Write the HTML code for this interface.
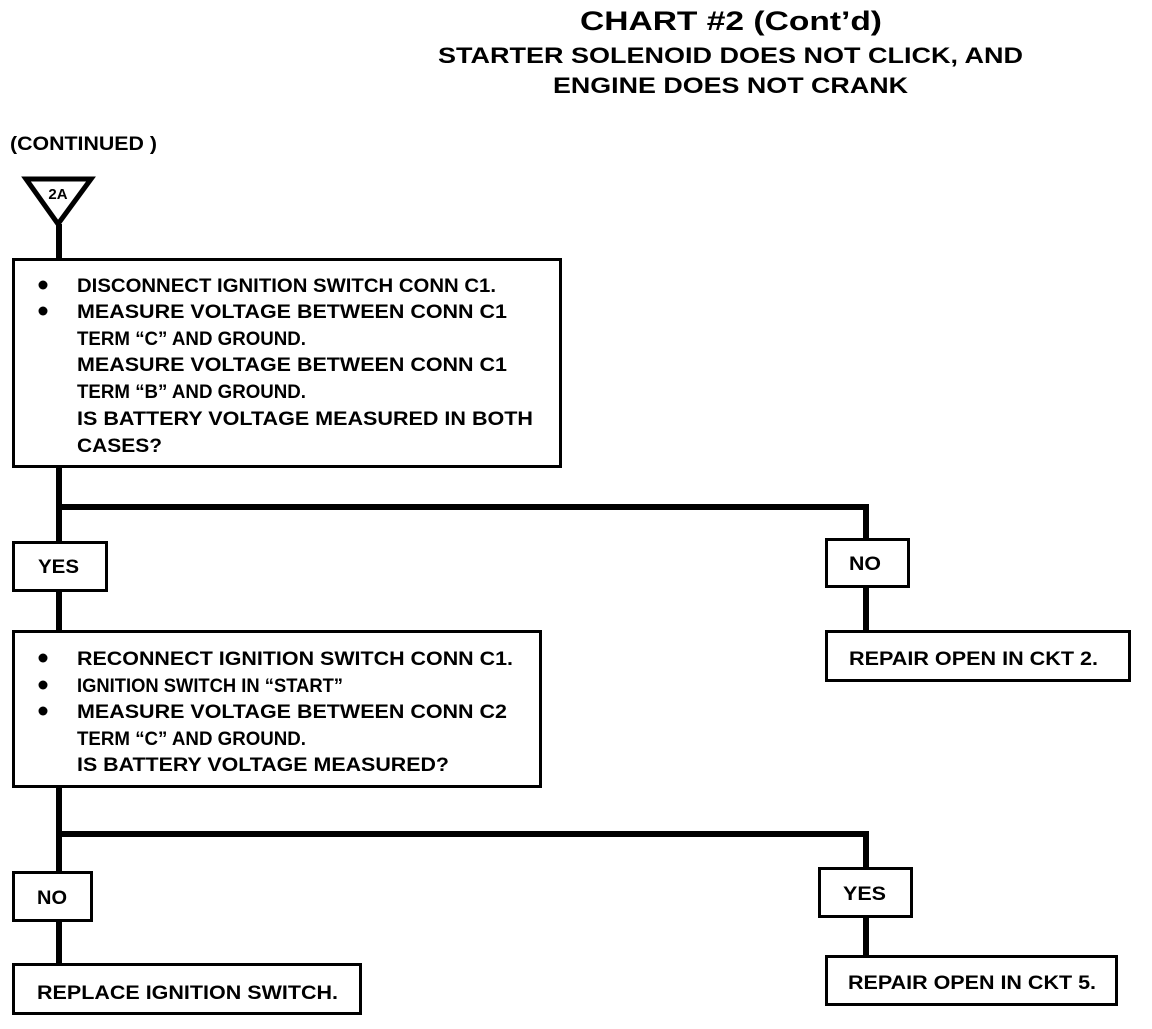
<!DOCTYPE html>
<html><head><meta charset="utf-8"><style>html,body{margin:0;padding:0;background:#fff}</style></head>
<body>
<svg width="1152" height="1024" viewBox="0 0 1152 1024" xmlns="http://www.w3.org/2000/svg" font-family="Liberation Sans, sans-serif" font-weight="bold" fill="#000">
<g text-anchor="start" lengthAdjust="spacingAndGlyphs">
<text x="580" y="30" font-size="27" textLength="302" lengthAdjust="spacingAndGlyphs">CHART #2  (Cont’d)</text>
<text x="438" y="63" font-size="22" textLength="585" lengthAdjust="spacingAndGlyphs">STARTER SOLENOID DOES NOT CLICK, AND</text>
<text x="553" y="93" font-size="22" textLength="355" lengthAdjust="spacingAndGlyphs">ENGINE DOES NOT CRANK</text>
<text x="10" y="150" font-size="19" textLength="147" lengthAdjust="spacingAndGlyphs">(CONTINUED )</text>
</g>
<g stroke="#000" fill="none">
<polygon points="26,179 91,179 58,224" stroke-width="5"/>
<line x1="59" y1="224" x2="59" y2="260" stroke-width="6"/>
<rect x="13.5" y="259.5" width="547" height="207" stroke-width="3"/>
<line x1="59" y1="467" x2="59" y2="632" stroke-width="6"/>
<line x1="57" y1="507" x2="869" y2="507" stroke-width="6"/>
<line x1="866" y1="504" x2="866" y2="632" stroke-width="6"/>
<rect x="13.5" y="542.5" width="93" height="48" fill="#fff" stroke-width="3"/>
<rect x="826.5" y="539.5" width="82" height="47" fill="#fff" stroke-width="3"/>
<rect x="826.5" y="631.5" width="303" height="49" stroke-width="3"/>
<rect x="13.5" y="631.5" width="527" height="155" stroke-width="3"/>
<line x1="59" y1="787" x2="59" y2="965" stroke-width="6"/>
<line x1="57" y1="834" x2="869" y2="834" stroke-width="6"/>
<line x1="866" y1="831" x2="866" y2="957" stroke-width="6"/>
<rect x="13.5" y="872.5" width="78" height="48" fill="#fff" stroke-width="3"/>
<rect x="13.5" y="964.5" width="347" height="49" stroke-width="3"/>
<rect x="819.5" y="868.5" width="92" height="48" fill="#fff" stroke-width="3"/>
<rect x="826.5" y="956.5" width="290" height="48" stroke-width="3"/>
</g>
<text x="58" y="199" font-size="15" text-anchor="middle">2A</text>
<g font-size="19">
<circle cx="43" cy="285" r="4.5"/><circle cx="43" cy="311" r="4.5"/>
<text x="77" y="292" textLength="419" lengthAdjust="spacingAndGlyphs">DISCONNECT IGNITION SWITCH CONN C1.</text>
<text x="77" y="318" textLength="430" lengthAdjust="spacingAndGlyphs">MEASURE VOLTAGE BETWEEN CONN C1</text>
<text x="77" y="345" textLength="229" lengthAdjust="spacingAndGlyphs">TERM “C” AND GROUND.</text>
<text x="77" y="371" textLength="430" lengthAdjust="spacingAndGlyphs">MEASURE VOLTAGE BETWEEN CONN C1</text>
<text x="77" y="398" textLength="229" lengthAdjust="spacingAndGlyphs">TERM “B” AND GROUND.</text>
<text x="77" y="425" textLength="456" lengthAdjust="spacingAndGlyphs">IS BATTERY VOLTAGE MEASURED IN BOTH</text>
<text x="77" y="452" textLength="85" lengthAdjust="spacingAndGlyphs">CASES?</text>
<text x="38" y="573" textLength="41" lengthAdjust="spacingAndGlyphs">YES</text>
<text x="849" y="570" textLength="32" lengthAdjust="spacingAndGlyphs">NO</text>
<text x="849" y="665" textLength="249" lengthAdjust="spacingAndGlyphs">REPAIR OPEN IN CKT 2.</text>
<circle cx="43" cy="658" r="4.5"/><circle cx="43" cy="685" r="4.5"/><circle cx="43" cy="711" r="4.5"/>
<text x="77" y="665" textLength="436" lengthAdjust="spacingAndGlyphs">RECONNECT IGNITION SWITCH CONN C1.</text>
<text x="77" y="692" textLength="266" lengthAdjust="spacingAndGlyphs">IGNITION SWITCH IN “START”</text>
<text x="77" y="718" textLength="430" lengthAdjust="spacingAndGlyphs">MEASURE VOLTAGE BETWEEN CONN C2</text>
<text x="77" y="745" textLength="229" lengthAdjust="spacingAndGlyphs">TERM “C” AND GROUND.</text>
<text x="77" y="771" textLength="372" lengthAdjust="spacingAndGlyphs">IS BATTERY VOLTAGE MEASURED?</text>
<text x="37" y="904" textLength="30" lengthAdjust="spacingAndGlyphs">NO</text>
<text x="37" y="999" textLength="301" lengthAdjust="spacingAndGlyphs">REPLACE IGNITION SWITCH.</text>
<text x="843" y="900" textLength="43" lengthAdjust="spacingAndGlyphs">YES</text>
<text x="848" y="989" textLength="248" lengthAdjust="spacingAndGlyphs">REPAIR OPEN IN CKT 5.</text>
</g>
</svg>
</body></html>
